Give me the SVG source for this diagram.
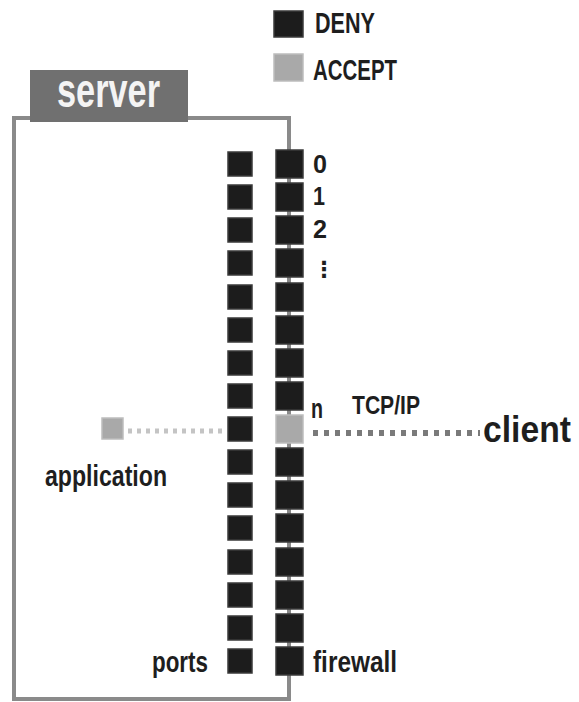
<svg xmlns="http://www.w3.org/2000/svg" width="579" height="702" viewBox="0 0 579 702">
<style>
.t{font-family:"Liberation Sans",Arial,sans-serif;fill:#1e1e1e;font-weight:bold}
.deny{fill:#1c1c1c;stroke:#3a3a3a;stroke-width:1.5}
.accept{fill:#a9a9a9;stroke:#bdbdbd;stroke-width:1.5}
.frame{fill:none;stroke:#8a8a8a;stroke-width:4}
</style>
<rect width="579" height="702" fill="#ffffff"/>
<g id="legend-deny">
<rect class="deny" x="274" y="11" width="29" height="26"/>
<text class="t" x="315" y="33" font-size="29" textLength="60" lengthAdjust="spacingAndGlyphs">DENY</text>
</g>
<g id="legend-accept">
<rect class="accept" x="274" y="54" width="29" height="27"/>
<text class="t" x="313" y="80" font-size="29" textLength="84" lengthAdjust="spacingAndGlyphs">ACCEPT</text>
</g>
<g id="server">
<rect class="frame" x="14" y="118" width="275" height="581"/>
<rect x="30" y="70" width="158" height="52" fill="#707070"/>
<text class="t" x="57" y="107" font-size="48" style="fill:#f4f4f4" textLength="103" lengthAdjust="spacingAndGlyphs">server</text>
</g>
<g id="connectors">
<line x1="128" y1="431" x2="222" y2="431" stroke="#c4c4c4" stroke-width="5" stroke-dasharray="4 5"/>
<line x1="313" y1="433" x2="480" y2="433" stroke="#7a7a7a" stroke-width="6" stroke-dasharray="5 6"/>
</g>
<g id="ports">
<rect class="deny" x="228" y="152" width="24" height="24"/>
<rect class="deny" x="228" y="185" width="24" height="24"/>
<rect class="deny" x="228" y="218" width="24" height="24"/>
<rect class="deny" x="228" y="251" width="24" height="24"/>
<rect class="deny" x="228" y="285" width="24" height="24"/>
<rect class="deny" x="228" y="318" width="24" height="24"/>
<rect class="deny" x="228" y="351" width="24" height="24"/>
<rect class="deny" x="228" y="384" width="24" height="24"/>
<rect class="deny" x="228" y="417" width="24" height="24"/>
<rect class="deny" x="228" y="450" width="24" height="24"/>
<rect class="deny" x="228" y="483" width="24" height="24"/>
<rect class="deny" x="228" y="516" width="24" height="24"/>
<rect class="deny" x="228" y="550" width="24" height="24"/>
<rect class="deny" x="228" y="583" width="24" height="24"/>
<rect class="deny" x="228" y="616" width="24" height="24"/>
<rect class="deny" x="228" y="649" width="24" height="24"/>
<text class="t" x="152" y="672" font-size="29" textLength="56" lengthAdjust="spacingAndGlyphs">ports</text>
</g>
<g id="firewall">
<rect class="deny" x="276" y="150" width="27" height="28"/>
<rect class="deny" x="276" y="183" width="27" height="28"/>
<rect class="deny" x="276" y="216" width="27" height="28"/>
<rect class="deny" x="276" y="249" width="27" height="28"/>
<rect class="deny" x="276" y="283" width="27" height="28"/>
<rect class="deny" x="276" y="316" width="27" height="28"/>
<rect class="deny" x="276" y="349" width="27" height="28"/>
<rect class="deny" x="276" y="382" width="27" height="28"/>
<rect class="accept" x="276" y="415" width="27" height="28"/>
<rect class="deny" x="276" y="448" width="27" height="28"/>
<rect class="deny" x="276" y="481" width="27" height="28"/>
<rect class="deny" x="276" y="514" width="27" height="28"/>
<rect class="deny" x="276" y="548" width="27" height="28"/>
<rect class="deny" x="276" y="581" width="27" height="28"/>
<rect class="deny" x="276" y="614" width="27" height="28"/>
<rect class="deny" x="276" y="647" width="27" height="28"/>
<text class="t" x="313" y="173" font-size="26" textLength="14" lengthAdjust="spacingAndGlyphs">0</text>
<text class="t" x="313" y="205" font-size="26" textLength="12" lengthAdjust="spacingAndGlyphs">1</text>
<text class="t" x="313" y="238" font-size="26" textLength="14" lengthAdjust="spacingAndGlyphs">2</text>
<text class="t" x="313" y="277" font-size="22" style="font-family:'DejaVu Sans',sans-serif">⋮</text>
<text class="t" x="311" y="418" font-size="28" textLength="12" lengthAdjust="spacingAndGlyphs">n</text>
<text class="t" x="313" y="672" font-size="29" textLength="84" lengthAdjust="spacingAndGlyphs">firewall</text>
</g>
<g id="application">
<rect class="accept" x="102" y="418" width="21" height="21"/>
<text class="t" x="45" y="486" font-size="29" textLength="122" lengthAdjust="spacingAndGlyphs">application</text>
</g>
<g id="tcpip">
<text class="t" x="352" y="414" font-size="26" textLength="68" lengthAdjust="spacingAndGlyphs">TCP/IP</text>
</g>
<g id="client">
<text class="t" x="483" y="442" font-size="36" textLength="88" lengthAdjust="spacingAndGlyphs">client</text>
</g>
</svg>
